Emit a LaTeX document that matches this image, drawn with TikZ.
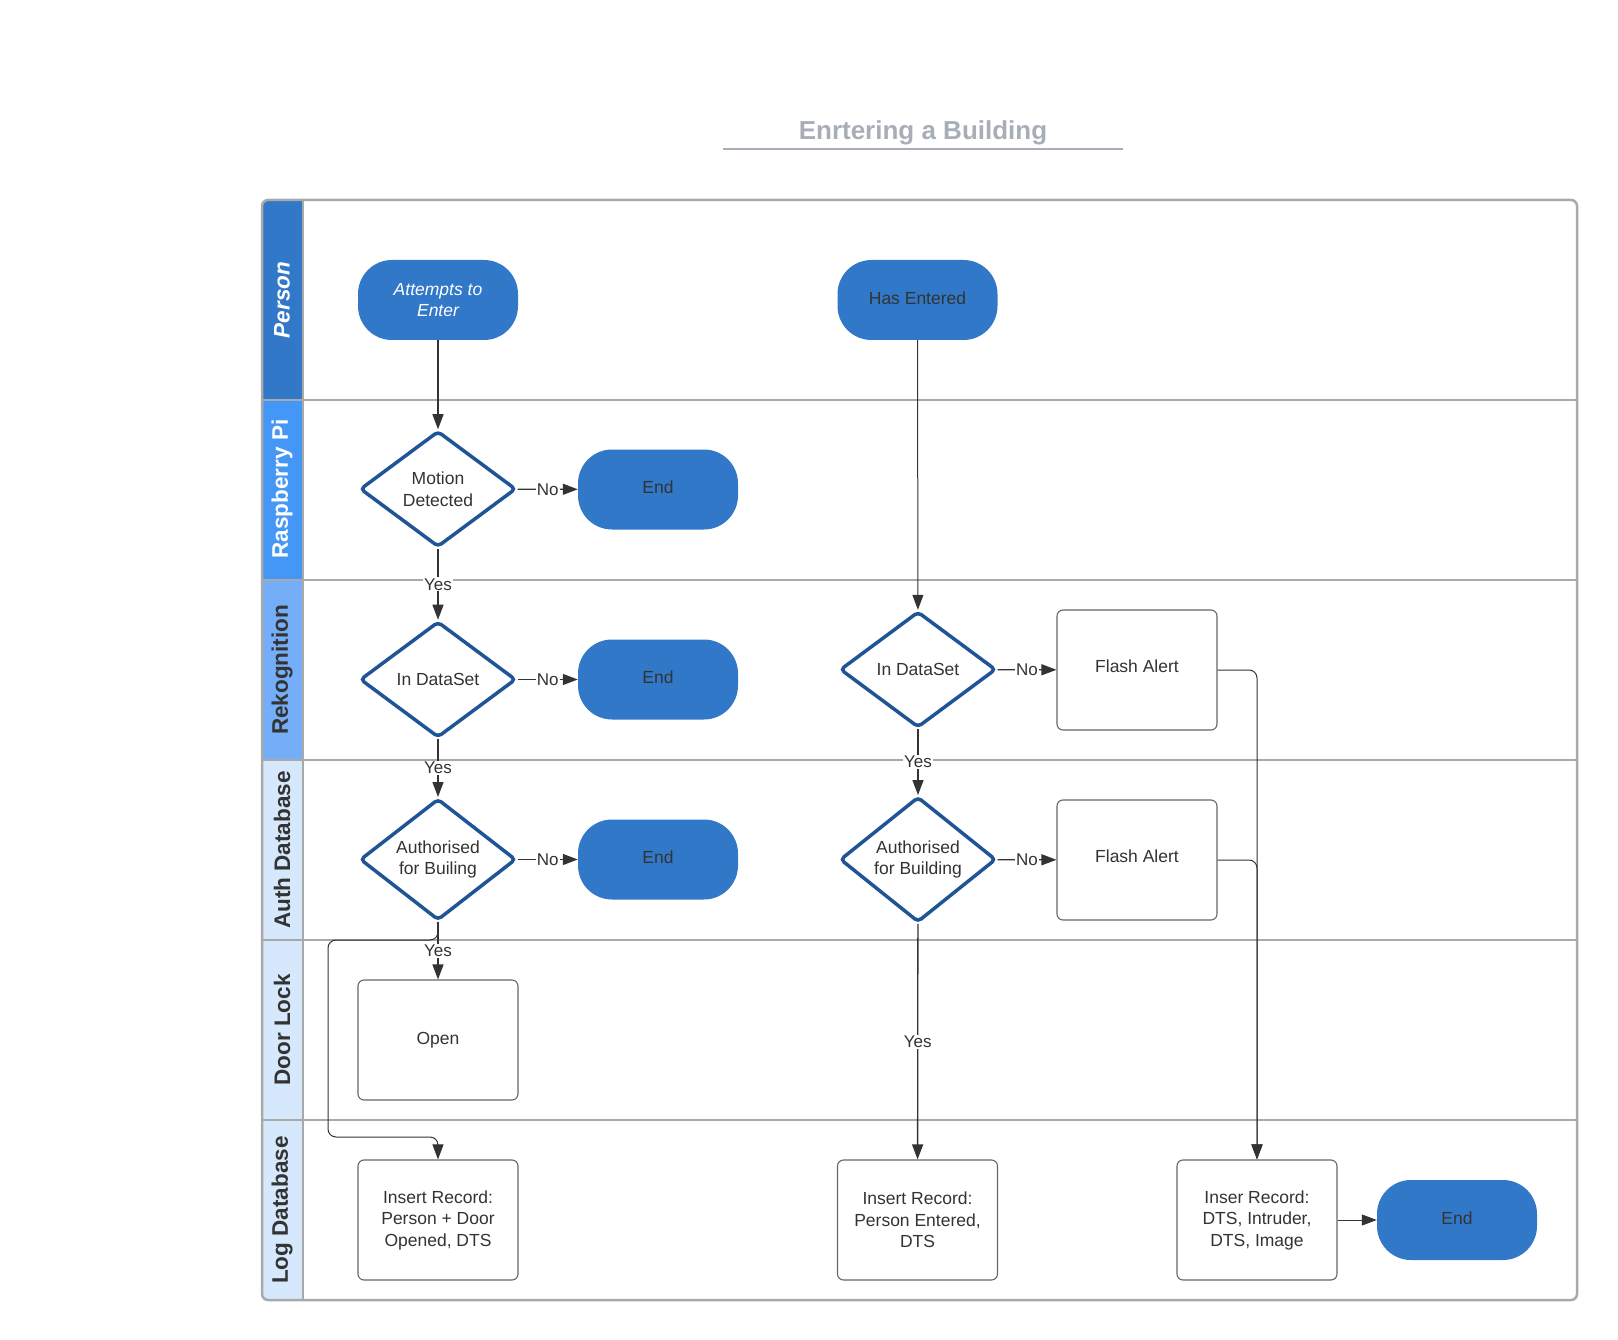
\documentclass[tikz,border=0pt]{standalone}
\usepackage{fontspec}
\setmainfont{Liberation Sans}
\usetikzlibrary{shapes.geometric,arrows.meta}
\definecolor{lucblue}{HTML}{3278C8}
\definecolor{rpiblue}{HTML}{4597F7}
\definecolor{rekblue}{HTML}{74AEF8}
\definecolor{paleblue}{HTML}{D6E8FC}
\definecolor{diablue}{HTML}{1F5597}
\definecolor{lanegray}{HTML}{A9A9A9}
\definecolor{titlegray}{HTML}{A8AEB8}
\definecolor{txt}{HTML}{333333}
\definecolor{boxgray}{HTML}{666666}
\tikzset{
  term/.style={rectangle, rounded corners=34pt, fill=lucblue, minimum width=160pt, minimum height=80pt, text=txt, align=center, inner sep=0pt},
  dia/.style={diamond, draw=diablue, line width=3.5pt, rounded corners=4pt, fill=white, minimum width=156pt, minimum height=116pt, inner sep=0pt, align=center, text=txt},
  procbox/.style={rectangle, draw=boxgray, line width=1.1pt, rounded corners=6pt, fill=white, minimum width=160pt, minimum height=120pt, align=center, text=txt},
  conn/.style={draw=txt, line width=1.3pt, -{Triangle[length=15pt,width=11pt]}},
  thinconn/.style={draw=txt, line width=1pt, -{Triangle[length=15pt,width=11pt]}, rounded corners=8pt},
  lbl/.style={fill=white, inner sep=1pt, text=txt, font=\fontsize{17}{20}\selectfont},
  hdr/.style={rotate=90, font=\fontsize{22.5}{26}\selectfont\bfseries},
}
\begin{document}
\begin{tikzpicture}[x=1pt,y=-1pt, font=\fontsize{17.5}{21.5}\selectfont]
\useasboundingbox (0,0) rectangle (1618,1340);
% title
\node[font=\fontsize{26}{30}\selectfont\bfseries, text=titlegray, anchor=base, inner sep=0pt] (title) at (923,139.5) {Enrtering a Building};
\draw[titlegray, line width=2pt] (723,149) -- (1123,149);
% header fills
\begin{scope}
\clip[rounded corners=6pt] (262,200) rectangle (1577,1300);
\fill[lucblue] (262,200) rectangle (303,400);
\fill[rpiblue] (262,400) rectangle (303,580);
\fill[rekblue] (262,580) rectangle (303,760);
\fill[paleblue] (262,760) rectangle (303,1300);
\end{scope}
% lanes
\draw[lanegray, line width=2pt] (303,200) -- (303,1300);
\foreach \yy in {400,580,760,940,1120} \draw[lanegray, line width=2pt] (262,\yy) -- (1577,\yy);
\draw[lanegray, line width=2.5pt, rounded corners=6pt] (262,200) rectangle (1577,1300);
% headers
\node[hdr, text=white] (hPerson) at (282,300) {\itshape Person};
\node[hdr, text=white] (hRpi) at (282,489) {Raspberry Pi};
\node[hdr, text=txt] (hRek) at (282,670) {Rekognition};
\node[hdr, text=txt] (hAuth) at (282,850) {Auth Database};
\node[hdr, text=txt] (hDoor) at (282,1030) {Door Lock};
\node[hdr, text=txt] (hLog) at (282,1210) {Log Database};
% nodes
\node[term, text=white] (attempt) at (438,300) {\itshape Attempts to\\\itshape Enter};
\node[term, text depth=4pt] (entered) at (917.5,300) {Has Entered};
\node[dia] (motion) at (438,489) {Motion\\Detected};
\node[term, text depth=4pt] (end1) at (658,489.5) {End};
\node[dia] (ids1) at (438,679.5) {In DataSet};
\node[term, text depth=4pt] (end2) at (658,679.5) {End};
\node[dia] (auth1) at (438,859.5) {Authorised\\for Builing};
\node[term, text depth=4pt] (end3) at (658,859.5) {End};
\node[procbox] (open) at (438,1040) {Open};
\node[procbox] (ins1) at (438,1220) {Insert Record:\\Person + Door\\Opened, DTS};
\node[dia] (ids2) at (918,669.5) {In DataSet};
\node[procbox, text depth=8pt] (fa1) at (1137,670) {Flash Alert};
\node[dia] (auth2) at (918,859.5) {Authorised\\for Building};
\node[procbox, text depth=8pt] (fa2) at (1137,860) {Flash Alert};
\node[procbox] (ins2) at (917.5,1220) {Insert Record:\\Person Entered,\\DTS};
\node[procbox] (ins3) at (1257,1220) {Inser Record:\\DTS, Intruder,\\DTS, Image};
\node[term, text depth=4pt] (end4) at (1457,1220) {End};
% connectors
\draw[conn] (attempt) -- (motion);
\draw[conn] (motion) -- node[lbl]{No} (end1);
\draw[conn] (motion) -- node[lbl]{Yes} (ids1);
\draw[conn] (ids1) -- node[lbl]{No} (end2);
\draw[conn] (ids1) -- node[lbl]{Yes} (auth1);
\draw[conn] (auth1) -- node[lbl]{No} (end3);
\draw[thinconn] (auth1.south) -- (438,940) -- (328,940) -- (328,1137) -- (438,1137) -- (ins1.north);
\draw[conn] (auth1) -- node[lbl]{Yes} (open);
\draw[conn, line width=1pt] (entered) -- (ids2);
\draw[conn] (ids2) -- node[lbl]{No} (fa1);
\draw[conn] (ids2) -- node[lbl]{Yes} (auth2);
\draw[conn] (auth2) -- node[lbl]{No} (fa2);
\draw[conn] (auth2) -- node[lbl]{Yes} (ins2);
\draw[thinconn] (fa1.east) -- (1257,670) -- (ins3.north);
\draw[thinconn] (fa2.east) -- (1257,860) -- (ins3.north);
\draw[conn, line width=1pt] (ins3) -- (end4);
\end{tikzpicture}
\end{document}
